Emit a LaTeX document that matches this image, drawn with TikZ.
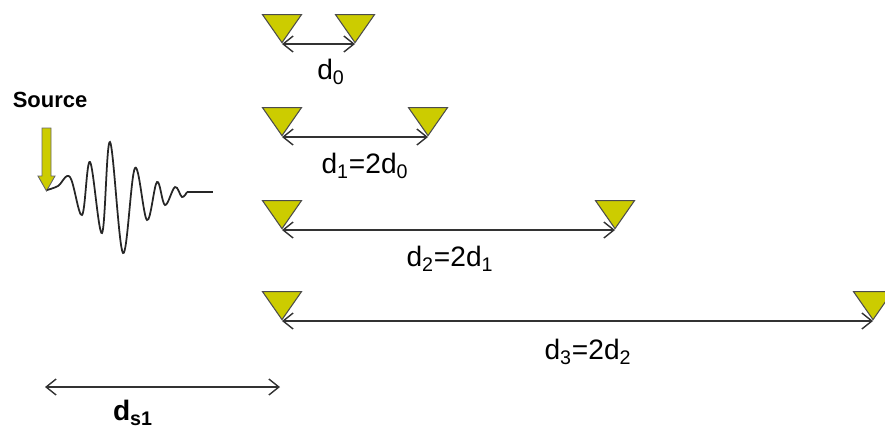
\documentclass[tikz,border=0pt]{standalone}
\usepackage{fontspec}
\setmainfont{Liberation Sans}
\usetikzlibrary{positioning,arrows.meta,shapes.geometric}
\definecolor{geoyellow}{RGB}{204,204,0}

\begin{document}
\begin{tikzpicture}[x=0.02cm, y=-0.02cm,
        geophone/.style={draw=black!70, fill=geoyellow, isosceles triangle, isosceles triangle stretches, shape border rotate=-90, minimum width=0.78cm, minimum height=0.56cm, inner sep=0pt, line width=0.6pt},
        span/.style={{Straight Barb[length=2mm,width=3.2mm]}-{Straight Barb[length=2mm,width=3.2mm]}, draw=black!80, line width=0.8pt},
        lbl/.style={font=\fontsize{16}{18}\selectfont, inner sep=1pt},
        wave/.style={draw=black!85, line width=1pt, smooth, tension=0.6}
    ]
        \useasboundingbox (0,0) rectangle (885,427);

        % source
        \node[font=\bfseries\fontsize{12.5}{14}\selectfont] (source) at (50,100) {Source};
        \draw[draw=black!60, fill=geoyellow, line width=0.5pt]
            (42,128) -- (51,128) -- (51,176) -- (55,176) -- (46.5,191) -- (38,176) -- (42,176) -- cycle;
        \draw[wave] plot coordinates {(47,190) (58,186) (70,177) (82,215) (90,162) (102,233) (110,142)
            (123,253) (135,168) (147,220) (157,182) (165,205) (175,187) (182,197) (187,192)};
        \draw[draw=black!85, line width=0.8pt] (187,192) -- (213,192);

        % receivers
        \node[geophone, anchor=apex] (g0a) at (282,44) {};
        \node[geophone, anchor=apex] (g0b) at (355,44) {};
        \node[geophone, anchor=apex] (g1a) at (282,137) {};
        \node[geophone, anchor=apex] (g1b) at (428,137) {};
        \node[geophone, anchor=apex] (g2a) at (282,230) {};
        \node[geophone, anchor=apex] (g2b) at (615,230) {};
        \node[geophone, anchor=apex] (g3a) at (282,321) {};
        \node[geophone, anchor=apex] (g3b) at (873,321) {};

        \draw[span] (g0a.apex) -- (g0b.apex);
        \draw[span] (g1a.apex) -- (g1b.apex);
        \draw[span] (g2a.apex) -- (g2b.apex);
        \draw[span] (g3a.apex) -- (g3b.apex);

        \node[lbl] (d0) at (331,72) {d\textsubscript{0}};
        \node[lbl] (d1) at (365,166) {d\textsubscript{1}=2d\textsubscript{0}};
        \node[lbl] (d2) at (450,259) {d\textsubscript{2}=2d\textsubscript{1}};
        \node[lbl] (d3) at (588,352) {d\textsubscript{3}=2d\textsubscript{2}};

        % source offset
        \coordinate (s1a) at (45,387);
        \coordinate (s1b) at (280,387);
        \draw[span] (s1a) -- (s1b);
        \node[lbl, font=\bfseries\fontsize{16}{18}\selectfont] (ds1) at (133,413) {d\textsubscript{s1}};
    \end{tikzpicture}
\end{document}
